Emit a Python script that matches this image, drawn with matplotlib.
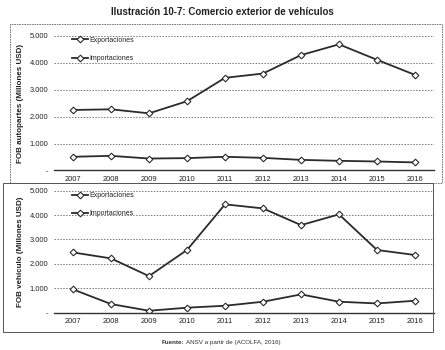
import matplotlib
matplotlib.use("Agg")
import matplotlib.pyplot as plt
from matplotlib.ticker import FuncFormatter
from matplotlib.patches import Rectangle

plt.rcParams['font.family'] = ['Liberation Sans', 'DejaVu Sans']

years = [2007, 2008, 2009, 2010, 2011, 2012, 2013, 2014, 2015, 2016]

# FOB autopartes (millones USD)
autopartes_a = [2250, 2275, 2125, 2575, 3445, 3605, 4290, 4690, 4115, 3555]
autopartes_b = [510, 545, 445, 460, 510, 470, 395, 360, 335, 300]

# FOB vehiculo (millones USD)
vehiculo_a = [2470, 2225, 1500, 2570, 4440, 4275, 3590, 4030, 2570, 2365]
vehiculo_b = [955, 355, 80, 205, 285, 450, 750, 450, 380, 490]

labels = ['Exportaciones', 'Importaciones']
yticks = [0, 1000, 2000, 3000, 4000, 5000]

W, H = 445, 350
fig = plt.figure(figsize=(W / 100, H / 100), dpi=100)


def fmt(v, pos):
    if v == 0:
        return '-'
    return f"{int(v):,}".replace(',', '.')


def px_axes(left, top, right, bottom):
    return fig.add_axes([left / W, 1 - bottom / H, (right - left) / W, (bottom - top) / H])


def draw_panel(ax, upper, lower, ylabel):
    for vals in (upper, lower):
        ax.plot(years, vals, color='#2b2b2b', lw=1.3, marker='D', ms=3.4,
                mfc='white', mec='#2b2b2b', mew=0.8)
    ax.set_xlim(2006.5, 2016.5)
    ax.set_ylim(0, 5000)
    ax.set_yticks(yticks)
    ax.set_xticks(years)
    ax.yaxis.set_major_formatter(FuncFormatter(fmt))
    ax.grid(axis='y', color='#777777', lw=0.7, ls=(0, (1.5, 1.5)))
    ax.set_axisbelow(True)
    for s in ('top', 'right', 'left'):
        ax.spines[s].set_visible(False)
    ax.spines['bottom'].set_color('#333333')
    ax.spines['bottom'].set_linewidth(1.0)
    ax.tick_params(axis='both', length=0, labelsize=5.4, colors='#222222', pad=4)
    ax.set_ylabel(ylabel, fontsize=5.8, fontweight='bold', color='#222222', labelpad=4)
    leg = ax.legend(labels, loc='upper left', bbox_to_anchor=(0.03, 1.04), frameon=False,
                    fontsize=5, handlelength=2.4, labelspacing=1.6, handletextpad=0.2)
    for t in leg.get_texts():
        t.set_color('#222222')


# panel frames
fig.patches.append(Rectangle((10 / W, 1 - 183 / H), 432 / W, 159 / H, transform=fig.transFigure,
                             fill=False, ec='#666666', lw=0.6, ls=(0, (2, 1))))
fig.patches.append(Rectangle((3 / W, 1 - 332 / H), 430 / W, 149 / H, transform=fig.transFigure,
                             fill=False, ec='#555555', lw=0.7))

ax1 = px_axes(54, 36, 434, 170.5)
draw_panel(ax1, autopartes_a, autopartes_b, 'FOB autopartes (Millones USD)')

ax2 = px_axes(54, 190.7, 434, 312.7)
draw_panel(ax2, vehiculo_a, vehiculo_b, 'FOB vehículo (Millones USD)')

fig.text(0.5, 1 - 12 / H, 'Ilustración 10-7: Comercio exterior de vehículos',
         ha='center', va='center', fontsize=7, fontweight='bold', color='#222222')
fig.text(184 / W, 1 - 344 / H, 'Fuente:', ha='right', va='baseline', fontsize=4.5,
         fontweight='bold', color='#333333')
fig.text(186 / W, 1 - 344 / H, 'ANSV a partir de (ACOLFA, 2016)', ha='left', va='baseline',
         fontsize=4.5, color='#333333')

fig.savefig('out.png', dpi=100)
